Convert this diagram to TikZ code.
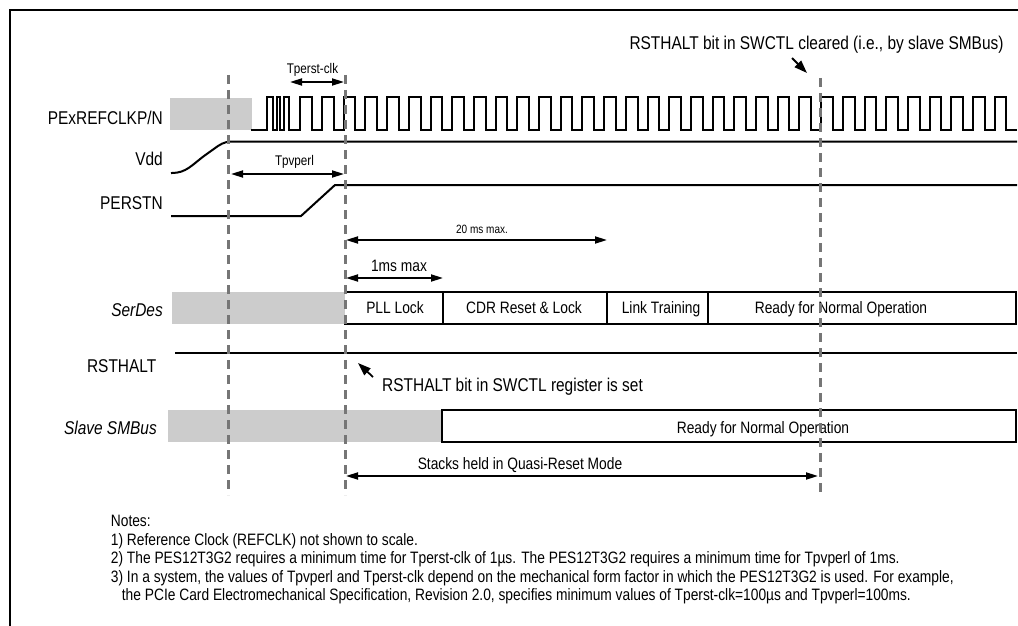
\documentclass[tikz,border=0pt]{standalone}
\usepackage{fontspec}
\setmainfont{Liberation Sans}[FakeStretch=0.835]
\usetikzlibrary{arrows.meta}
\definecolor{boxgray}{RGB}{204,204,204}
\definecolor{dashgray}{RGB}{118,118,118}
\begin{document}
\begin{tikzpicture}[x=1pt,y=-1pt,
  sig/.style={line width=2pt, line join=miter, line cap=rect},
  vline/.style={dashgray, line width=3pt, dash pattern=on 9pt off 6pt},
  dim/.style={line width=1.8pt, {Triangle[length=12pt,width=7pt]}-{Triangle[length=12pt,width=7pt]}},
  ptr/.style={line width=1.8pt, -{Triangle[length=13pt,width=9pt]}},
  big/.style={font=\fontsize{18.5}{20}\selectfont, inner sep=0pt},
  lbl/.style={big, anchor=base east},
  ilbl/.style={lbl, font=\fontsize{18.5}{20}\selectfont\itshape},
  small/.style={font=\fontsize{14}{16}\selectfont, inner sep=0pt, anchor=base},
  tiny/.style={font=\fontsize{12}{14}\selectfont, inner sep=0pt, anchor=base},
  mid/.style={font=\fontsize{16.5}{18}\selectfont, inner sep=0pt, anchor=base},
  note/.style={font=\fontsize{16.5}{18}\selectfont, inner sep=0pt, anchor=base west},
  gbox/.style={fill=boxgray, draw=none},
  wline/.style={line width=2pt, line cap=rect}
]
\useasboundingbox (0,0) rectangle (1018,626);
% frame
\draw[line width=2.5pt] (10,660) -- (10,10) -- (1060,10);

% ---------- PExREFCLKP/N ----------
\node[lbl] (lclk) at (163,124.6) {PExREFCLKP/N};
\fill[gbox] (170,98) rectangle (252,130);
\draw[sig] (252,130) -- (267,130) -- (267,97) -- (273,97) -- (273,130) -- (277,130)
  -- (277,97) -- (280,97) -- (280,130) -- (283.5,130) -- (283.5,97) -- (289,97)
  -- (289,130) -- (300.3,130)
  \foreach \k in {0,...,32}{ -- ({300.3+21.7*\k},97) -- ({312+21.7*\k},97)
  -- ({312+21.7*\k},130) -- ({min(322+21.7*\k,1016)},130)};

% ---------- Vdd ----------
\node[lbl] (lvdd) at (163,165.6) {Vdd};
\draw[sig] (172,173) .. controls (186,173) and (192,165) .. (204,156) -- (218,146)
  .. controls (224,142) and (228,141.5) .. (234,141.5) -- (1016,141.5);

% ---------- PERSTN ----------
\node[lbl] (lper) at (163,209.6) {PERSTN};
\draw[sig] (172,216) -- (301,216) -- (335,185) -- (1016,185);

% ---------- SerDes ----------
\node[ilbl] (lser) at (163,316.6) {SerDes};
\fill[gbox] (172,292) rectangle (345,324);
\draw[wline] (345,292) -- (1016,292) -- (1016,324) -- (345,324);
\draw[wline] (443,292) -- (443,324);
\draw[wline] (607,292) -- (607,324);
\draw[wline] (708,292) -- (708,324);
\node[mid] (pll) at (395,313.9) {PLL Lock};
\node[mid] (cdr) at (524,313.9) {CDR Reset \& Lock};
\node[mid] (lnk) at (661,313.9) {Link Training};
\node[mid] (rdy1) at (841,313.9) {Ready for Normal Operation};

% ---------- RSTHALT ----------
\node[lbl] (lrst) at (156.5,372.6) {RSTHALT};
\draw[sig] (176,353) -- (1016,353);

% ---------- Slave SMBus ----------
\node[ilbl] (lsmb) at (157,434.6) {Slave SMBus};
\fill[gbox] (168,410) rectangle (442,442);
\draw[wline] (442,410) rectangle (1016,442);
\node[mid] (rdy2) at (763,433.9) {Ready for Normal Operation};

% ---------- dimension arrows ----------
\coordinate (tcA) at (290,82);  \coordinate (tcB) at (344,82);
\draw[dim] (tcA) -- (tcB);
\node[small] (ttc) at (312.5,73.5) {Tperst-clk};

\coordinate (tpA) at (231,174); \coordinate (tpB) at (344,174);
\draw[dim] (tpA) -- (tpB);
\node[small] (ttp) at (294.5,165.5) {Tpvperl};

\coordinate (t20A) at (346,240); \coordinate (t20B) at (607,240);
\draw[dim] (t20A) -- (t20B);
\node[tiny] (t20) at (482,233.3) {20 ms max.};

\coordinate (t1A) at (346,278); \coordinate (t1B) at (443,278);
\draw[dim] (t1A) -- (t1B);
\node[mid] (t1) at (399,271.9) {1ms max};

\coordinate (stA) at (346,476); \coordinate (stB) at (818,476);
\draw[dim] (stA) -- (stB);
\node[mid] (tst) at (520,469.9) {Stacks held in Quasi-Reset Mode};

% ---------- annotations ----------
\node[big, anchor=base] (aclr) at (816.5,49.1) {RSTHALT bit in SWCTL cleared (i.e., by slave SMBus)};
\coordinate (clrTail) at (792,58); \coordinate (clrTip) at (807,73);
\draw[ptr] (clrTail) -- (clrTip);

\node[big, anchor=base west] (aset) at (382,391.6) {RSTHALT bit in SWCTL register is set};
\coordinate (setTail) at (373,377); \coordinate (setTip) at (358,363);
\draw[ptr] (setTail) -- (setTip);

% ---------- dashed time markers ----------
\coordinate (d1t) at (228,75);  \coordinate (d1b) at (228,495);
\coordinate (d2t) at (345,75);  \coordinate (d2b) at (345,495);
\coordinate (d3t) at (820,78);  \coordinate (d3b) at (820,495);
\draw[vline] (d1t) -- (d1b);
\draw[vline] (d2t) -- (d2b);
\draw[vline] (d3t) -- (d3b);

% ---------- notes ----------
\node[note] (n0) at (110.7,526.7) {Notes:};
\node[note] (n1) at (110.7,545.2) {1) Reference Clock (REFCLK) not shown to scale.};
\node[note] (n2) at (110.7,563.7) {2) The PES12T3G2 requires a minimum time for Tperst-clk of 1µs. The PES12T3G2 requires a minimum time for Tpvperl of 1ms.};
\node[note] (n3) at (110.7,582.2) {3) In a system, the values of Tpvperl and Tperst-clk depend on the mechanical form factor in which the PES12T3G2 is used. For example,};
\node[note] (n4) at (121.7,600.7) {the PCIe Card Electromechanical Specification, Revision 2.0, specifies minimum values of Tperst-clk=100µs and Tpvperl=100ms.};
\end{tikzpicture}
\end{document}
